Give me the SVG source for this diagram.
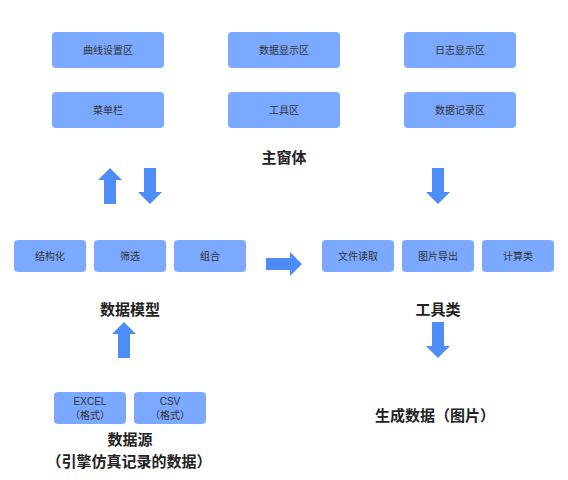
<svg xmlns="http://www.w3.org/2000/svg" width="568" height="480" viewBox="0 0 568 480">
<style>
.box{fill:#7AA9FF;}
.t{font-family:"Liberation Sans","Noto Sans CJK SC",sans-serif;font-size:10px;fill:#333;text-anchor:middle;}
.h{font-family:"Noto Sans CJK SC","Liberation Sans",sans-serif;font-size:15px;font-weight:bold;fill:#222;text-anchor:middle;}
.ar{fill:#4E8DF7;}
</style>
<defs>
<path id="down" d="M-6,0 H6 V24 H12 L0,36 L-12,24 H-6 Z"/>
<path id="up" d="M0,0 L12,12 H6 V36 H-6 V12 H-12 Z"/>
</defs>
<rect width="568" height="480" fill="#fff"/>
<g id="n-curve"><rect class="box" x="52" y="32" width="112" height="36" rx="4"/><text class="t" x="108" y="54">曲线设置区</text></g>
<g id="n-datadisp"><rect class="box" x="228" y="32" width="112" height="36" rx="4"/><text class="t" x="284" y="54">数据显示区</text></g>
<g id="n-logdisp"><rect class="box" x="404" y="32" width="112" height="36" rx="4"/><text class="t" x="460" y="54">日志显示区</text></g>
<g id="n-menu"><rect class="box" x="52" y="92" width="112" height="36" rx="4"/><text class="t" x="108" y="114">菜单栏</text></g>
<g id="n-tools"><rect class="box" x="228" y="92" width="112" height="36" rx="4"/><text class="t" x="284" y="114">工具区</text></g>
<g id="n-datarec"><rect class="box" x="404" y="92" width="112" height="36" rx="4"/><text class="t" x="460" y="114">数据记录区</text></g>
<g id="l-main"><text class="h" x="284" y="163">主窗体</text></g>
<g id="n-struct"><rect class="box" x="14" y="240" width="72" height="32" rx="4"/><text class="t" x="50" y="260">结构化</text></g>
<g id="n-filter"><rect class="box" x="94" y="240" width="72" height="32" rx="4"/><text class="t" x="130" y="260">筛选</text></g>
<g id="n-combine"><rect class="box" x="174" y="240" width="72" height="32" rx="4"/><text class="t" x="210" y="260">组合</text></g>
<g id="n-fileread"><rect class="box" x="322" y="240" width="72" height="32" rx="4"/><text class="t" x="358" y="260">文件读取</text></g>
<g id="n-imgexp"><rect class="box" x="402" y="240" width="72" height="32" rx="4"/><text class="t" x="438" y="260">图片导出</text></g>
<g id="n-calc"><rect class="box" x="482" y="240" width="72" height="32" rx="4"/><text class="t" x="518" y="260">计算类</text></g>
<g id="l-model"><text class="h" x="130" y="315">数据模型</text></g>
<g id="l-toolcls"><text class="h" x="438" y="315">工具类</text></g>
<g id="n-excel"><rect class="box" x="54" y="392" width="72" height="32" rx="4"/><text class="t" x="90" y="405">EXCEL</text><text class="t" x="90" y="419">（格式）</text></g>
<g id="n-csv"><rect class="box" x="134" y="392" width="72" height="32" rx="4"/><text class="t" x="170" y="405">CSV</text><text class="t" x="170" y="419">（格式）</text></g>
<g id="l-source"><text class="h" x="130" y="445">数据源</text><text class="h" x="129" y="467">（引擎仿真记录的数据）</text></g>
<g id="l-output"><text class="h" x="435" y="421">生成数据（图片）</text></g>
<g id="connectors">
<use href="#up" class="ar" x="110" y="168"/>
<use href="#down" class="ar" x="150" y="168"/>
<use href="#down" class="ar" x="438" y="168"/>
<path class="ar" d="M266,258 H290 V252 L302,264 L290,276 V270 H266 Z"/>
<use href="#up" class="ar" x="124" y="322"/>
<use href="#down" class="ar" x="438" y="322"/>
</g>
</svg>
